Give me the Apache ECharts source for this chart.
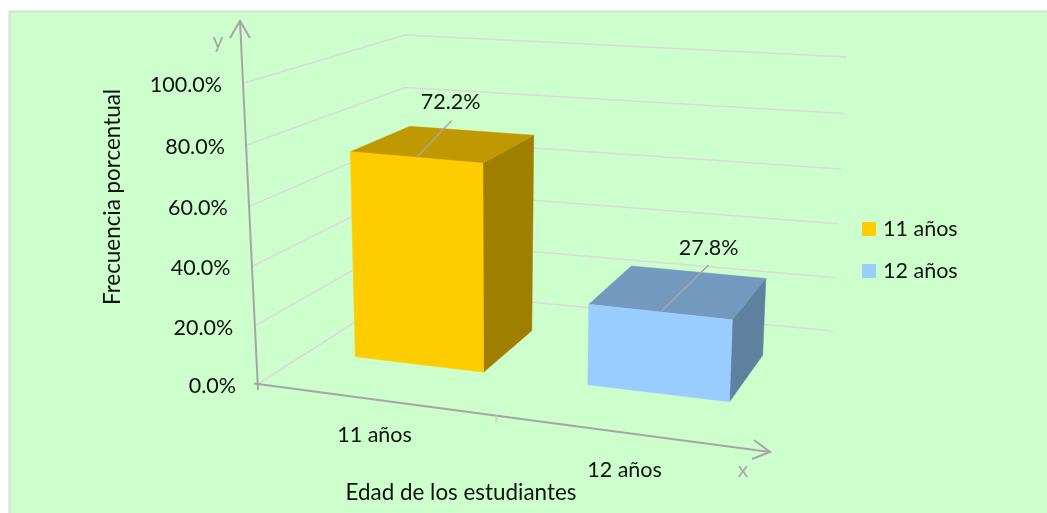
<!DOCTYPE html>
<html>
<head>
<meta charset="utf-8">
<style>
  html, body { margin: 0; padding: 0; background: #fff; }
  #chart { width: 1047px; height: 513px; }
</style>
<script src="https://cdn.jsdelivr.net/npm/echarts@6/dist/echarts.min.js"></script>
</head>
<body>
<div id="chart"></div>
<script>
// datos
const categories = ["11 años", "12 años"];
const values11 = [72.2];
const values12 = [27.8];
const yTicks = [0, 20, 40, 60, 80, 100];

const FONT = "Lato";
const TEXT_SIZE = 21.5;
const GRID = { left: 258, top: 83, width: 482, height: 301 };

// esquinas de la caja 3D: suelo y techo, frente y fondo
const corners = {
  floor: { fl: [258, 384], fr: [740, 448], bl: [405, 290], br: [833, 331] },
  roof: { fl: [244, 83], fr: [752, 126], bl: [405, 35], br: [847, 57] },
};
const BAR_FRONT = 0.35; // profundidad de la barra
const BAR_BACK = 0.75;

function mix(a, b, t) {
  return [a[0] + (b[0] - a[0]) * t, a[1] + (b[1] - a[1]) * t];
}
function plane(p, u, d) {
  return mix(mix(p.fl, p.fr, u), mix(p.bl, p.br, u), d);
}
// u: 0-1 sobre x, v: 0-1 sobre y, d: 0-1 en profundidad
function project(u, v, d) {
  const t = v / (v + (1 - v) * 1.038);
  return mix(plane(corners.floor, u, d), plane(corners.roof, u, d), t);
}
// las barras convergen un poco hacia el fondo
function projectBar(u, v, d) {
  return project(u * (1 - 0.0375 * (d - BAR_FRONT)), v, d);
}
// pasa de pixeles del grid a coordenadas normalizadas
function toUnit(params, pt) {
  const g = params.coordSys;
  return [(pt[0] - g.x) / g.width, 1 - (pt[1] - g.y) / g.height];
}

function poly(points, fill) {
  return { type: "polygon", shape: { points: points }, style: { fill: fill, stroke: fill, lineWidth: 0.5 } };
}

function barRenderer(colors, place, leader, labelOffset) {
  return function (params, api) {
    const un = toUnit(params, api.coord([api.value(0), api.value(1)]));
    const mid = un[0] + place.shift;
    const half = (api.size([1, 0])[0] / params.coordSys.width) * place.width / 2;
    const u0 = mid - half, u1 = mid + half, v = un[1];
    const a = projectBar(u0, 0, BAR_FRONT), b = projectBar(u1, 0, BAR_FRONT);
    const c = projectBar(u1, v, BAR_FRONT), e = projectBar(u0, v, BAR_FRONT);
    const f = projectBar(u1, 0, BAR_BACK), g = projectBar(u1, v, BAR_BACK), h = projectBar(u0, v, BAR_BACK);
    const anchor = projectBar(mid, v, BAR_FRONT);
    return {
      type: "group",
      children: [
        poly([b, f, g, c], colors[2]),
        poly([e, c, g, h], colors[1]),
        poly([a, b, c, e], colors[0]),
        {
          type: "line",
          shape: { x1: anchor[0], y1: anchor[1], x2: anchor[0] + leader[0], y2: anchor[1] + leader[1] },
          style: { stroke: "#a6a6a6", lineWidth: 1.5 },
        },
        {
          type: "text",
          style: {
            x: anchor[0] + labelOffset[0], y: anchor[1] + labelOffset[1],
            text: api.value(1).toFixed(1) + "%",
            font: TEXT_SIZE + "px " + FONT, fill: "#111", align: "center", verticalAlign: "middle",
          },
        },
      ],
    };
  };
}

function wallRenderer(params, api) {
  const v = toUnit(params, api.coord([0, api.value(1)]))[1];
  const p0 = project(0, v, 0), p1 = project(0, v, 1), p2 = project(1, v, 1);
  return {
    type: "group",
    children: [
      {
        type: "polyline",
        shape: { points: [p0, p1, p2] },
        style: { stroke: "#dcd8dc", lineWidth: 1.5, fill: null },
      },
      {
        type: "text",
        style: {
          x: p0[0] - 22, y: p0[1] + 2,
          text: api.value(1).toFixed(1) + "%",
          font: TEXT_SIZE + "px " + FONT, fill: "#111", align: "right", verticalAlign: "middle",
        },
      },
    ],
  };
}

const catOffset = [[-4, 35], [5, 38]];
function catRenderer(params, api) {
  const i = api.value(0);
  const u = toUnit(params, api.coord([i, 0]))[0];
  const p = project(u, 0, 0);
  return {
    type: "text",
    style: {
      x: p[0] + catOffset[i][0], y: p[1] + catOffset[i][1],
      text: categories[i],
      font: TEXT_SIZE + "px " + FONT, fill: "#111", align: "center", verticalAlign: "middle",
    },
  };
}

function axesRenderer() {
  const s = { stroke: "#a8a4a8", lineWidth: 2, fill: null };
  const thin = { stroke: "#d0ccd0", lineWidth: 1.5 };
  const o = corners.floor.fl;
  const mid = project(0.494, 0, 0);
  return {
    type: "group",
    children: [
      { type: "polyline", shape: { points: [[o[0], o[1] + 6], [240, 21]] }, style: { stroke: s.stroke, lineWidth: 2 } },
      { type: "polyline", shape: { points: [[230, 38], [240, 21], [250, 38]] }, style: s },
      { type: "polyline", shape: { points: [[o[0] - 4, o[1] - 0.5], [770, 452]] }, style: { stroke: s.stroke, lineWidth: 2 } },
      { type: "polyline", shape: { points: [[754, 440], [770, 452], [752, 459]] }, style: s },
      { type: "line", shape: { x1: mid[0], y1: mid[1], x2: mid[0], y2: mid[1] + 7 }, style: thin },
    ],
  };
}

const chart = echarts.init(document.getElementById("chart"));
chart.setOption({
  animation: false,
  grid: GRID,
  xAxis: { type: "category", data: categories, show: false },
  yAxis: { type: "value", min: 0, max: 100, interval: 20, show: false },
  legend: {
    orient: "vertical",
    left: 857,
    top: 213,
    itemWidth: 14,
    itemHeight: 14,
    itemGap: 20,
    icon: "rect",
    data: categories,
    textStyle: { fontFamily: FONT, fontSize: TEXT_SIZE, color: "#111", padding: [0, 0, 0, 2], height: 22, lineHeight: 22 },
  },
  graphic: [
    {
      type: "rect", z: -10, silent: true,
      shape: { x: 9.5, y: 11.5, width: 1100, height: 600 },
      style: { fill: "#ccffcc", stroke: "#dcdcdc", lineWidth: 2 },
    },
    {
      type: "text", x: 113, y: 197, rotation: Math.PI / 2, silent: true,
      style: { text: "Frecuencia porcentual", font: "22.4px " + FONT, fill: "#111", align: "center", verticalAlign: "middle" },
    },
    {
      type: "text", x: 461, y: 493, silent: true,
      style: { text: "Edad de los estudiantes", font: "22.4px " + FONT, fill: "#111", align: "center", verticalAlign: "middle" },
    },
    {
      type: "text", x: 218, y: 41, silent: true,
      style: { text: "y", font: "21px " + FONT, fill: "#a8a4a8", align: "center", verticalAlign: "middle" },
    },
    {
      type: "text", x: 743, y: 470, silent: true,
      style: { text: "x", font: "21px " + FONT, fill: "#a8a4a8", align: "center", verticalAlign: "middle" },
    },
  ],
  series: [
    {
      type: "custom", silent: true, z: 1,
      data: yTicks.map((t) => [0, t]),
      renderItem: wallRenderer,
    },
    {
      type: "custom", silent: true, z: 2,
      data: [[0, 0]],
      renderItem: axesRenderer,
    },
    {
      type: "custom", silent: true, z: 2,
      data: categories.map((c, i) => [i, 0]),
      renderItem: catRenderer,
    },
    {
      name: categories[0], type: "custom", silent: true, z: 3,
      itemStyle: { color: "#ffcc00" },
      data: values11.map((v) => [0, v]),
      renderItem: barRenderer(["#ffcc00", "#c09900", "#a07f00"], { shift: -0.0125, width: 0.554 }, [35, -37], [34, -55]),
    },
    {
      name: categories[1], type: "custom", silent: true, z: 3,
      itemStyle: { color: "#99ccff" },
      data: values12.map((v) => [1, v]),
      renderItem: barRenderer(["#99ccff", "#7399bf", "#6080a0"], { shift: 0.004, width: 0.612 }, [48, -47], [48, -64]),
    },
  ],
});
</script>
</body>
</html>
